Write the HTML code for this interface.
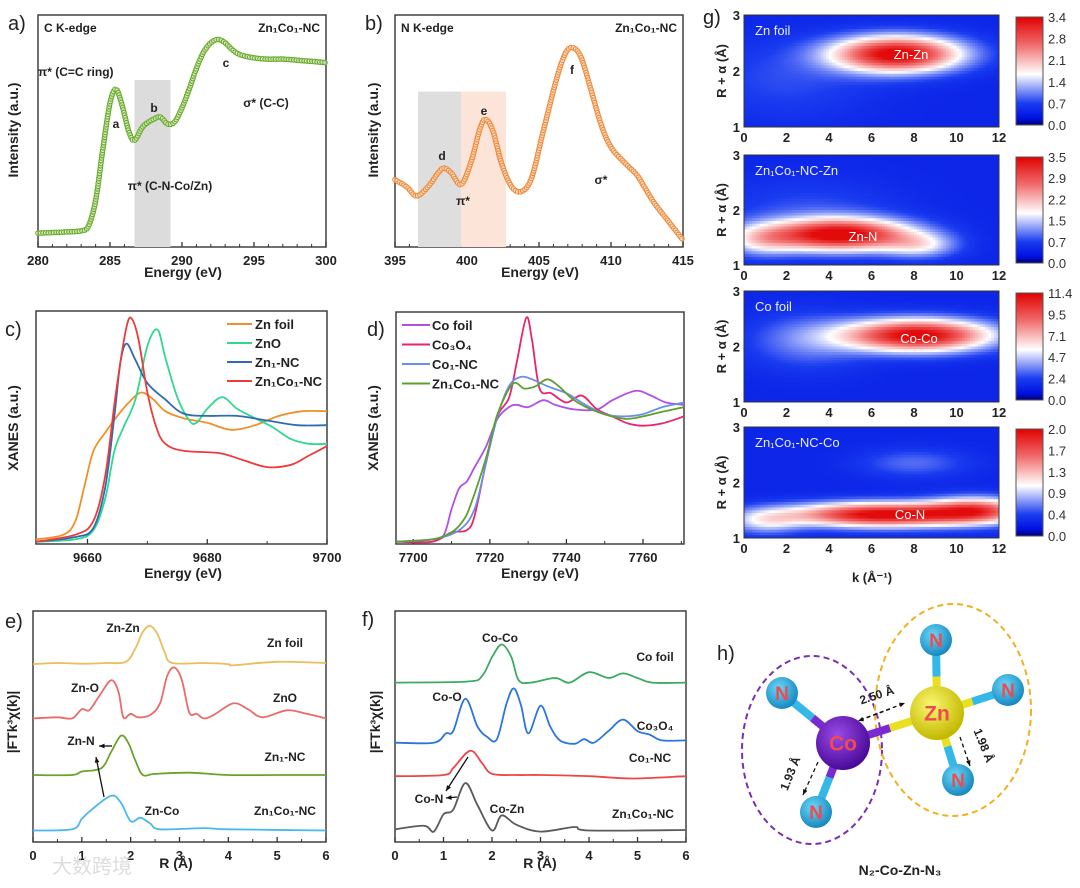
<!DOCTYPE html>
<html><head><meta charset="utf-8">
<style>
html,body{margin:0;padding:0;background:#fff;}
svg{display:block;font-family:"Liberation Sans","Noto Sans CJK SC",sans-serif;}
.tl{font-size:13px;font-weight:bold;fill:#222;}
.ax{font-size:14px;font-weight:bold;fill:#222;}
.lab{font-size:12px;font-weight:bold;fill:#222;}
.pl{font-size:20px;fill:#222;}
</style></head>
<body>
<svg id="fig" width="1080" height="888" viewBox="0 0 1080 888" xmlns="http://www.w3.org/2000/svg">
<defs>
<radialGradient id="gCo" cx="40%" cy="35%" r="65%"><stop offset="0" stop-color="#9a4ae8"/><stop offset="1" stop-color="#4a0a98"/></radialGradient>
<radialGradient id="gZn" cx="40%" cy="35%" r="65%"><stop offset="0" stop-color="#fbf870"/><stop offset="1" stop-color="#c2b800"/></radialGradient>
<radialGradient id="gN" cx="40%" cy="35%" r="65%"><stop offset="0" stop-color="#6ad8f8"/><stop offset="1" stop-color="#1888c0"/></radialGradient>
<linearGradient id="cbar" x1="0" y1="1" x2="0" y2="0">
<stop offset="0" stop-color="#000070"/><stop offset="0.06" stop-color="#0010e0"/><stop offset="0.2" stop-color="#1a3cf0"/><stop offset="0.47" stop-color="#ffffff"/><stop offset="0.75" stop-color="#f06868"/><stop offset="1" stop-color="#e00000"/>
</linearGradient>
</defs>
</svg>
<script>
// ---------- DATA ----------
const aE=[280,282,283,283.5,284,284.5,285,285.4,285.8,286.3,286.7,287.3,288,288.5,289,289.5,290,290.5,291,291.5,292,292.5,293,293.5,294,295,296,297,298,299,300];
const aI=[0.06,0.065,0.07,0.09,0.2,0.42,0.62,0.68,0.62,0.5,0.46,0.52,0.55,0.56,0.53,0.54,0.6,0.68,0.77,0.84,0.88,0.895,0.88,0.85,0.83,0.815,0.81,0.81,0.805,0.8,0.795];
const bE=[395,395.8,396.5,397.3,398,398.4,398.9,399.6,400.3,400.9,401.3,401.8,402.4,403.1,403.8,404.5,405.3,406.2,406.8,407.3,407.9,408.6,409.3,410,411,411.8,412.4,413,414,415];
const bI=[0.29,0.26,0.22,0.26,0.32,0.34,0.32,0.27,0.37,0.51,0.55,0.5,0.36,0.26,0.24,0.3,0.5,0.72,0.83,0.86,0.82,0.68,0.53,0.43,0.36,0.31,0.25,0.19,0.11,0.03];
const cZnFoilE=[9651.4,9656,9658,9659.5,9661,9663,9665,9667,9669,9671,9673,9676,9680,9684,9688,9692,9696,9700];
const cZnFoilI=[0.02,0.04,0.1,0.25,0.4,0.48,0.55,0.61,0.65,0.62,0.57,0.54,0.52,0.49,0.51,0.55,0.57,0.57];
const cZnOE=[9651.4,9658,9661,9663,9664.5,9666,9668,9670,9671.7,9673,9675,9677,9678.2,9680,9682.5,9685,9688,9691,9694,9697,9700];
const cZnOI=[0.01,0.02,0.06,0.2,0.4,0.5,0.62,0.85,0.92,0.8,0.63,0.53,0.52,0.58,0.63,0.58,0.54,0.5,0.45,0.43,0.43];
const cZn1E=[9651.4,9658,9661,9663,9664.5,9665.5,9666.5,9668,9670,9673,9676,9680,9685,9690,9695,9700];
const cZn1I=[0.01,0.03,0.07,0.25,0.55,0.78,0.86,0.79,0.69,0.62,0.56,0.55,0.55,0.53,0.51,0.51];
const cZnCoE=[9651.4,9658,9661,9663,9664.5,9665.5,9666.5,9667.3,9668.5,9670,9671.5,9673,9676,9682,9686,9690,9694,9697,9700];
const cZnCoI=[0.01,0.04,0.1,0.3,0.6,0.78,0.93,0.97,0.88,0.65,0.5,0.43,0.4,0.39,0.36,0.33,0.34,0.38,0.42];
const cNames=["Zn foil","ZnO","Zn\u2081-NC","Zn\u2081Co\u2081-NC"];
const dCoFoilE=[7695.5,7705,7708,7710,7712,7714,7716,7719,7722,7725,7727,7730,7734,7737,7742,7748,7752,7758,7762,7766,7770.7];
const dCoFoilI=[0.01,0.02,0.04,0.15,0.24,0.27,0.33,0.42,0.54,0.59,0.6,0.59,0.62,0.6,0.58,0.58,0.62,0.66,0.64,0.61,0.6];
const dCo3O4E=[7695.5,7705,7710,7714,7716,7719,7722,7725,7727,7729.5,7731,7733,7736,7740,7744,7748,7752,7756,7760,7765,7770.7];
const dCo3O4I=[0.01,0.01,0.05,0.06,0.12,0.35,0.55,0.63,0.78,0.975,0.88,0.67,0.65,0.61,0.64,0.58,0.55,0.52,0.51,0.52,0.55];
const dCo1E=[7695.5,7705,7712,7716,7719,7722,7725,7728,7731,7735,7740,7745,7750,7755,7760,7765,7770.7];
const dCo1I=[0.01,0.02,0.06,0.15,0.35,0.55,0.68,0.72,0.71,0.68,0.65,0.6,0.56,0.55,0.56,0.59,0.61];
const dZnCoE=[7695.5,7705,7710,7713,7715,7719,7722,7726,7729,7732,7735,7738,7742,7748,7755,7760,7765,7770.7];
const dZnCoI=[0.01,0.02,0.05,0.1,0.17,0.37,0.56,0.69,0.67,0.68,0.71,0.68,0.62,0.57,0.54,0.55,0.57,0.59];
const dNames=["Co foil","Co\u2083O\u2084","Co\u2081-NC","Zn\u2081Co\u2081-NC"];
const eZnFoilR=[0,0.5,1,1.5,1.9,2.1,2.25,2.4,2.55,2.7,2.85,3.5,4,4.1,5,6];
const eZnFoilV=[0.77,0.775,0.772,0.775,0.78,0.84,0.91,0.935,0.9,0.82,0.775,0.775,0.77,0.765,0.78,0.775];
const eZnOR=[0,0.5,0.8,1,1.15,1.35,1.6,1.75,1.85,2,2.15,2.4,2.6,2.75,2.9,3.05,3.2,3.35,3.5,3.7,4.1,4.4,4.7,5.2,5.6,6];
const eZnOV=[0.535,0.54,0.535,0.575,0.57,0.63,0.7,0.65,0.54,0.555,0.54,0.55,0.6,0.72,0.755,0.7,0.56,0.555,0.535,0.55,0.6,0.575,0.54,0.57,0.555,0.535];
const eZn1R=[0,0.8,1,1.4,1.6,1.8,1.95,2.1,2.25,2.5,3.2,4,5,6];
const eZn1V=[0.29,0.29,0.305,0.32,0.39,0.46,0.43,0.35,0.29,0.295,0.3,0.29,0.29,0.29];
const eZnCoR=[0,0.8,1,1.2,1.6,1.8,2,2.2,2.4,2.6,3.5,4,6];
const eZnCoV=[0.05,0.055,0.1,0.14,0.2,0.17,0.09,0.105,0.08,0.055,0.06,0.055,0.05];
const fCoFoilR=[0,1.5,1.8,2,2.2,2.4,2.55,2.8,3.3,3.6,4,4.4,4.7,5,5.3,6];
const fCoFoilV=[0.69,0.695,0.72,0.8,0.855,0.8,0.7,0.69,0.71,0.69,0.735,0.71,0.73,0.71,0.69,0.69];
const fCo3O4R=[0,0.8,1.05,1.2,1.45,1.7,1.9,2.1,2.3,2.45,2.6,2.75,3,3.2,3.4,3.7,3.9,4.1,4.4,4.7,5,5.25,5.5,6];
const fCo3O4V=[0.43,0.43,0.47,0.48,0.62,0.5,0.455,0.445,0.6,0.665,0.59,0.47,0.59,0.5,0.44,0.425,0.445,0.43,0.48,0.53,0.48,0.465,0.44,0.44];
const fCo1R=[0,1,1.2,1.55,1.8,2,2.5,3,4,4.9,6];
const fCo1V=[0.285,0.29,0.32,0.395,0.34,0.295,0.29,0.29,0.285,0.275,0.285];
const fZnCoR=[0,0.6,0.8,1,1.2,1.45,1.7,2,2.2,2.5,3,3.7,4,6];
const fZnCoV=[0.055,0.07,0.045,0.12,0.14,0.255,0.16,0.05,0.115,0.075,0.045,0.065,0.05,0.052];
// heatmap peaks: [k, R, amplitude, sigmaK, sigmaR]
const g1Peaks=[[7.2,2.3,1.0,2.1,0.22],[2,1.85,0.1,3,0.5]];
const g2Peaks=[[4.5,1.55,1.0,2.3,0.2],[8.3,1.35,0.3,1.2,0.16],[0.8,1.45,0.3,1.2,0.2],[3,2.0,0.1,3,0.4]];
const g3Peaks=[[8.2,2.2,1.0,2.4,0.2],[3,2.1,0.18,2,0.35]];
const g4Peaks=[[6.5,1.42,1.0,3.0,0.15],[11,1.5,0.65,1.6,0.16],[8,2.35,0.15,1.8,0.18],[1,1.3,0.3,1.2,0.16]];
const g1Ticks=["0.0","0.7","1.4","2.1","2.8","3.4"];
const g2Ticks=["0.0","0.7","1.5","2.2","2.9","3.5"];
const g3Ticks=["0.0","2.4","4.7","7.1","9.5","11.4"];
const g4Ticks=["0.0","0.4","0.9","1.3","1.7","2.0"];

// ---------- HELPERS ----------
const NS="http://www.w3.org/2000/svg";
const svg=document.getElementById("fig");
function mk(tag,parent){const e=document.createElementNS(NS,tag);(parent||svg).appendChild(e);return e;}
function lin(d0,d1,r0,r1){return v=>r0+(v-d0)*(r1-r0)/(d1-d0);}
function smooth(pts){
  let d="M"+pts[0][0].toFixed(1)+","+pts[0][1].toFixed(1);
  for(let i=0;i<pts.length-1;i++){
    const p0=pts[Math.max(0,i-1)],p1=pts[i],p2=pts[i+1],p3=pts[Math.min(pts.length-1,i+2)];
    const c1=[p1[0]+(p2[0]-p0[0])/6,p1[1]+(p2[1]-p0[1])/6];
    const c2=[p2[0]-(p3[0]-p1[0])/6,p2[1]-(p3[1]-p1[1])/6];
    d+="C"+c1[0].toFixed(1)+","+c1[1].toFixed(1)+" "+c2[0].toFixed(1)+","+c2[1].toFixed(1)+" "+p2[0].toFixed(1)+","+p2[1].toFixed(1);
  }
  return d;
}
function txt(x,y,s,cls,anchor,parent){const t=mk("text",parent);t.setAttribute("x",x);t.setAttribute("y",y);if(cls)t.setAttribute("class",cls);if(anchor)t.setAttribute("text-anchor",anchor);t.textContent=s;return t;}

function panel(P){
  const g=mk("g");
  
  
  const fr=mk("rect",g);
  
  
  fr.setAttribute("x",P.x0);fr.setAttribute("y",P.y0);fr.setAttribute("width",P.x1-P.x0);fr.setAttribute("height",P.y1-P.y0);
  fr.setAttribute("fill","none");fr.setAttribute("stroke","#333");fr.setAttribute("stroke-width","1.4");
  const sx=lin(P.d0,P.d1,P.x0,P.x1);
  const tg=mk("g",g);
  
  
  P.minor.forEach(v=>{const l=mk("line",tg);l.setAttribute("x1",sx(v));l.setAttribute("x2",sx(v));l.setAttribute("y1",P.y1);l.setAttribute("y2",P.y1-3);l.setAttribute("stroke","#333");});
  P.ticks.forEach(v=>{const l=mk("line",tg);l.setAttribute("x1",sx(v));l.setAttribute("x2",sx(v));l.setAttribute("y1",P.y1);l.setAttribute("y2",P.y1-5);l.setAttribute("stroke","#333");l.setAttribute("stroke-width","1.3");
    const t=txt(sx(v),P.y1+18,String(v),"tl","middle",tg);
    
    });
  return {g,sx,sy:lin(0,1,P.y1,P.y0)};
}
function series(ax,xs,ys,color,name,width,markers){
  const pts=xs.map((x,i)=>[ax.sx(x),ax.sy(ys[i])]);
  const p=mk("path",ax.g);
  
  
  p.setAttribute("d",smooth(pts));p.setAttribute("fill","none");p.setAttribute("stroke",color);p.setAttribute("stroke-width",width||1.8);
  if(markers){
    p.setAttribute("stroke-width","0.8");
    const L=p.getTotalLength();
    const mg=mk("g",ax.g);
    
    
    for(let s=0;s<=L;s+=2.6){const q=p.getPointAtLength(s);const c=mk("circle",mg);c.setAttribute("cx",q.x.toFixed(1));c.setAttribute("cy",q.y.toFixed(1));c.setAttribute("r","2.3");c.setAttribute("fill","#fff");c.setAttribute("fill-opacity","0.5");c.setAttribute("stroke",color);c.setAttribute("stroke-width","1.1");}
  }
  return p;
}
function band(ax,e0,e1,top,color,name){
  const r=mk("rect",ax.g);
  
  
  r.setAttribute("x",ax.sx(e0));r.setAttribute("width",ax.sx(e1)-ax.sx(e0));r.setAttribute("y",ax.sy(top));r.setAttribute("height",ax.sy(0)-ax.sy(top));r.setAttribute("fill",color);
}
function ylabel(x,y,s,name){const t=txt(0,0,s,"ax","middle");t.setAttribute("transform","translate("+x+","+y+") rotate(-90)");
  
  }
function label(x,y,s,cls,anchor,name){const t=txt(x,y,s,cls||"lab",anchor);
  
  return t;}
function rng(a,b,s){const r=[];for(let v=a;v<=b+1e-9;v+=s)r.push(+v.toFixed(3));return r;}
function arrow(x1,y1,x2,y2,name,dash){
  const l=mk("line");
  
  
  l.setAttribute("x1",x1);l.setAttribute("y1",y1);l.setAttribute("x2",x2);l.setAttribute("y2",y2);l.setAttribute("stroke","#111");l.setAttribute("stroke-width","1.3");if(dash)l.setAttribute("stroke-dasharray",dash);
  const a=Math.atan2(y2-y1,x2-x1),h=6;
  const p=mk("polygon");
  
  
  p.setAttribute("points",x2+","+y2+" "+(x2-h*Math.cos(a-0.4))+","+(y2-h*Math.sin(a-0.4))+" "+(x2-h*Math.cos(a+0.4))+","+(y2-h*Math.sin(a+0.4)));p.setAttribute("fill","#111");
}

// ---------- PANEL A ----------
const A=panel({name:"panel-a",x0:38,x1:326,y0:15,y1:247,d0:280,d1:300,ticks:[280,285,290,295,300],minor:rng(280,300,1)});
band(A,286.7,289.2,0.72,"#dcdcdc","shaded-region-b");
series(A,aE,aI,"#6aab2a","c-k-edge-curve",1,true);
label(8,30,"a)","pl",null,"panel-a-letter");
label(44,32,"C K-edge","lab",null,"c-k-edge-title");
label(320,32,"Zn\u2081Co\u2081-NC","lab","end","sample-label-a");
label(38,76,"\u03c0* (C=C ring)","lab",null,"pi-star-ring-label");
label(116,128,"a","lab","middle","peak-a-label");
label(154,112,"b","lab","middle","peak-b-label");
label(226,67,"c","lab","middle","peak-c-label");
label(266,107,"\u03c3* (C-C)","lab","middle","sigma-star-label-a");
label(170,190,"\u03c0* (C-N-Co/Zn)","lab","middle","pi-star-cn-label");
ylabel(18,130,"Intensity (a.u.)","y-axis-title-a");
label(183,277,"Energy (eV)","ax","middle","x-axis-title-a");

// ---------- PANEL B ----------
const B=panel({name:"panel-b",x0:395,x1:683,y0:15,y1:247,d0:395,d1:415,ticks:[395,400,405,410,415],minor:rng(395,415,1)});
band(B,396.6,399.6,0.67,"#dedede","shaded-region-d");
band(B,399.6,402.7,0.67,"#fce4d8","shaded-region-e");
series(B,bE,bI,"#ee8a3a","n-k-edge-curve",1,true);
label(365,30,"b)","pl",null,"panel-b-letter");
label(401,32,"N K-edge","lab",null,"n-k-edge-title");
label(677,32,"Zn\u2081Co\u2081-NC","lab","end","sample-label-b");
label(442,160,"d","lab","middle","peak-d-label");
label(484,115,"e","lab","middle","peak-e-label");
label(572,74,"f","lab","middle","peak-f-label");
label(463,205,"\u03c0*","lab","middle","pi-star-label-b");
label(601,184,"\u03c3*","lab","middle","sigma-star-label-b");
ylabel(378,130,"Intensity (a.u.)","y-axis-title-b");
label(540,277,"Energy (eV)","ax","middle","x-axis-title-b");

// ---------- PANEL C ----------
const C=panel({name:"panel-c",x0:36,x1:327,y0:311,y1:544,d0:9651.4,d1:9700,ticks:[9660,9680,9700],minor:[9670,9690]});
const cCols=["#f0902a","#30d890","#2e6cb2","#ee3a3a"];
series(C,cZnFoilE,cZnFoilI,cCols[0],"zn-foil-xanes-line",1.8);
series(C,cZnOE,cZnOI,cCols[1],"zno-xanes-line",1.8);
series(C,cZn1E,cZn1I,cCols[2],"zn1-nc-xanes-line",1.8);
series(C,cZnCoE,cZnCoI,cCols[3],"zn1co1-nc-xanes-line",1.8);
cNames.forEach((n,i)=>{const y=324+i*19;const l=mk("line");
  
  
  l.setAttribute("x1",227);l.setAttribute("x2",252);l.setAttribute("y1",y);l.setAttribute("y2",y);l.setAttribute("stroke",cCols[i]);l.setAttribute("stroke-width","2");
  label(255,y+5,n,"tl",null,"legend-entry-c");});
label(5,336,"c)","pl",null,"panel-c-letter");
ylabel(18,428,"XANES (a.u.)","y-axis-title-c");
label(183,578,"Energy (eV)","ax","middle","x-axis-title-c");

// ---------- PANEL D ----------
const D=panel({name:"panel-d",x0:396,x1:684,y0:312,y1:544,d0:7695.5,d1:7770.7,ticks:[7700,7720,7740,7760],minor:[7710,7730,7750,7770]});
const dCols=["#b050ea","#e8246e","#6a8eea","#5ea030"];
series(D,dCoFoilE,dCoFoilI,dCols[0],"co-foil-xanes-line",1.8);
series(D,dCo3O4E,dCo3O4I,dCols[1],"co3o4-xanes-line",1.8);
series(D,dCo1E,dCo1I,dCols[2],"co1-nc-xanes-line",1.8);
series(D,dZnCoE,dZnCoI,dCols[3],"zn1co1-nc-co-xanes-line",1.8);
dNames.forEach((n,i)=>{const y=325+i*19.5;const l=mk("line");
  
  
  l.setAttribute("x1",402);l.setAttribute("x2",430);l.setAttribute("y1",y);l.setAttribute("y2",y);l.setAttribute("stroke",dCols[i]);l.setAttribute("stroke-width","2");
  label(432,y+5,n,"tl",null,"legend-entry-d");});
label(367,336,"d)","pl",null,"panel-d-letter");
ylabel(378,428,"XANES (a.u.)","y-axis-title-d");
label(540,578,"Energy (eV)","ax","middle","x-axis-title-d");

// ---------- PANEL E ----------
const E=panel({name:"panel-e",x0:33,x1:326,y0:611,y1:842,d0:0,d1:6,ticks:[0,1,2,3,4,5,6],minor:rng(0.5,5.5,1)});
series(E,eZnFoilR,eZnFoilV,"#ecbd5a","zn-foil-ft-line",1.8);
series(E,eZnOR,eZnOV,"#ea6a6a","zno-ft-line",1.8);
series(E,eZn1R,eZn1V,"#6aa32a","zn1-nc-ft-line",1.8);
series(E,eZnCoR,eZnCoV,"#4ab8ec","zn1co1-nc-ft-line",1.8);
label(5,628,"e)","pl",null,"panel-e-letter");
label(123,632,"Zn-Zn","lab","middle","zn-zn-label");
label(285,647,"Zn foil","lab","middle","zn-foil-label");
label(85,692,"Zn-O","lab","middle","zn-o-label");
label(285,702,"ZnO","lab","middle","zno-label");
label(81,745,"Zn-N","lab","middle","zn-n-label");
label(285,761,"Zn\u2081-NC","lab","middle","zn1-nc-label");
label(162,815,"Zn-Co","lab","middle","zn-co-label");
label(285,815,"Zn\u2081Co\u2081-NC","lab","middle","zn1co1-nc-label-e");
arrow(112,746,99,746,"zn-n-arrow-green");
arrow(104,797,96,757,"zn-n-arrow-blue");
ylabel(17,722,"|FTk\u00b3\u03c7(k)|","y-axis-title-e");
label(176,868,"R (\u00c5)","ax","middle","x-axis-title-e");

// ---------- PANEL F ----------
const F=panel({name:"panel-f",x0:395,x1:686,y0:611,y1:842,d0:0,d1:6,ticks:[0,1,2,3,4,5,6],minor:rng(0.5,5.5,1)});
series(F,fCoFoilR,fCoFoilV,"#3caa60","co-foil-ft-line",1.8);
series(F,fCo3O4R,fCo3O4V,"#2a75e0","co3o4-ft-line",1.8);
series(F,fCo1R,fCo1V,"#ea4848","co1-nc-ft-line",1.8);
series(F,fZnCoR,fZnCoV,"#5a5a5a","zn1co1-nc-co-ft-line",1.8);
label(362,626,"f)","pl",null,"panel-f-letter");
label(500,642,"Co-Co","lab","middle","co-co-label");
label(655,661,"Co foil","lab","middle","co-foil-label");
label(447,701,"Co-O","lab","middle","co-o-label");
label(655,730,"Co\u2083O\u2084","lab","middle","co3o4-label");
label(650,762,"Co\u2081-NC","lab","middle","co1-nc-label");
label(429,803,"Co-N","lab","middle","co-n-label");
label(507,813,"Co-Zn","lab","middle","co-zn-label");
label(643,818,"Zn\u2081Co\u2081-NC","lab","middle","zn1co1-nc-label-f");
arrow(468,757,446,791,"co-n-arrow-red");
arrow(457,797,446,798,"co-n-arrow-gray");
ylabel(380,722,"|FTk\u00b3\u03c7(k)|","y-axis-title-f");
label(540,868,"R (\u00c5)","ax","middle","x-axis-title-f");

// ---------- PANEL G (WT heatmaps) ----------
function cmap(v){
  const st=[[0,[0,0,112]],[0.06,[0,16,224]],[0.2,[26,60,240]],[0.47,[255,255,255]],[0.75,[242,110,110]],[1,[226,10,10]]];
  v=Math.max(0,Math.min(1,v));
  for(let i=0;i<st.length-1;i++){if(v<=st[i+1][0]){const t=(v-st[i][0])/(st[i+1][0]-st[i][0]);const a=st[i][1],b=st[i+1][1];return "rgb("+a.map((c,j)=>Math.round(c+(b[j]-c)*t)).join(",")+")";}}
  return "rgb(226,10,10)";
}
const hx0=744,hx1=999;
function heat(y0,y1,peaks,ticks,name,title,blabel,bx,by){
  const g=mk("g");
  
  
  const sk=lin(0,12,hx0,hx1),sr=lin(1,3,y1,y0);
  const nk=96,nr=40,cw=(hx1-hx0)/nk,ch=(y1-y0)/nr;
  for(let i=0;i<nk;i++)for(let j=0;j<nr;j++){
    const k=(i+0.5)/nk*12,R=3-(j+0.5)/nr*2;
    let v=0.14;
    peaks.forEach(p=>{v+=p[2]*Math.exp(-((k-p[0])**2)/(2*p[3]*p[3])-((R-p[1])**2)/(2*p[4]*p[4]));});
    const r=mk("rect",g);
    
    
    r.setAttribute("x",(sk(0)+i*cw).toFixed(2));r.setAttribute("y",(y0+j*ch).toFixed(2));r.setAttribute("width",(cw+0.5).toFixed(2));r.setAttribute("height",(ch+0.5).toFixed(2));r.setAttribute("fill",cmap(v*0.92));
  }
  const fr=mk("rect",g);
  
  
  fr.setAttribute("x",hx0);fr.setAttribute("y",y0);fr.setAttribute("width",hx1-hx0);fr.setAttribute("height",y1-y0);fr.setAttribute("fill","none");fr.setAttribute("stroke","#333");
  [1,2,3].forEach(v=>{const t=txt(hx0-4,sr(v)+5,String(v),"tl","end",g);
    
    });
  [0,2,4,6,8,10,12].forEach(v=>{const t=txt(sk(v),y1+15,String(v),"tl","middle",g);
    
    });
  const yt=txt(0,0,"R + \u03b1 (\u00c5)","tl","middle",g);
  yt.setAttribute("transform","translate(726,"+((y0+y1)/2)+") rotate(-90)");
  
  
  const t1=txt(755,y0+20,title,"tl",null,g);t1.setAttribute("style","fill:#e8ecff;font-weight:normal");
  
  
  const t2=txt(bx,by,blabel,"tl","middle",g);t2.setAttribute("style","fill:#fff;font-weight:normal");
  
  
  const cb=mk("rect",g);
  
  
  cb.setAttribute("x",1016);cb.setAttribute("y",y0+2);cb.setAttribute("width",27);cb.setAttribute("height",y1-y0-4);cb.setAttribute("fill","url(#cbar)");cb.setAttribute("stroke","#555");
  ticks.forEach((s,i)=>{const yy=y1-2-i*(y1-y0-4)/(ticks.length-1);const t=txt(1048,yy+5,s,"tl",null,g);t.setAttribute("style","font-weight:normal;fill:#333");
    
    });
}
heat(15,127,g1Peaks,g1Ticks,"wt-zn-foil","Zn foil","Zn-Zn",911,59);
heat(155,265,g2Peaks,g2Ticks,"wt-zn1co1-nc-zn","Zn\u2081Co\u2081-NC-Zn","Zn-N",863,241);
heat(291,402,g3Peaks,g3Ticks,"wt-co-foil","Co foil","Co-Co",919,343);
heat(427,538,g4Peaks,g4Ticks,"wt-zn1co1-nc-co","Zn\u2081Co\u2081-NC-Co","Co-N",910,519);
label(703,24,"g)","pl",null,"panel-g-letter");
label(872,582,"k (\u00c5\u207b\u00b9)","tl","middle","k-axis-title");

// ---------- PANEL H (structure) ----------
const Co=[843,743],Zn=[937,713];
const Ns=[[782,693],[816,812],[936,640],[1008,690],[958,780]];
const owner=[Co,Co,Zn,Zn,Zn];
function bond(a,b,ca,cb,name){
  const m=[(a[0]+b[0])/2,(a[1]+b[1])/2];
  [[a,m,ca],[m,b,cb]].forEach(s=>{const l=mk("line");
    
    
    l.setAttribute("x1",s[0][0]);l.setAttribute("y1",s[0][1]);l.setAttribute("x2",s[1][0]);l.setAttribute("y2",s[1][1]);l.setAttribute("stroke",s[2]);l.setAttribute("stroke-width","8");});
}
const e1=mk("ellipse");


e1.setAttribute("cx",812);e1.setAttribute("cy",750);e1.setAttribute("rx",70);e1.setAttribute("ry",94);e1.setAttribute("fill","none");e1.setAttribute("stroke","#7a30b0");e1.setAttribute("stroke-width","2");e1.setAttribute("stroke-dasharray","6 4");
const e2=mk("ellipse");


e2.setAttribute("cx",953);e2.setAttribute("cy",710);e2.setAttribute("rx",78);e2.setAttribute("ry",106);e2.setAttribute("fill","none");e2.setAttribute("stroke","#f0b020");e2.setAttribute("stroke-width","2");e2.setAttribute("stroke-dasharray","6 4");
Ns.forEach((n,i)=>bond(owner[i],n,owner[i]===Co?"#7a2ad0":"#e8e020","#34b8e8","bond"));
bond(Co,Zn,"#7a2ad0","#e8e020","co-zn-bond");
function atom(p,r,grad,s,fs,name){
  const c=mk("circle");
  
  
  c.setAttribute("cx",p[0]);c.setAttribute("cy",p[1]);c.setAttribute("r",r);c.setAttribute("fill","url(#"+grad+")");
  const t=txt(p[0],p[1]+fs*0.36,s,null,"middle");t.setAttribute("style","font-size:"+fs+"px;font-weight:bold;fill:#f04a50");
  
  
}
Ns.forEach(n=>atom(n,16,"gN","N",19,"n-atom"));
atom(Co,27,"gCo","Co",21,"co-atom");
atom(Zn,27,"gZn","Zn",21,"zn-atom");
arrow(860,720,905,703,"co-zn-distance-arrow","4 3");
arrow(890,709,858,721,"co-zn-distance-arrow-back","4 3");
const d1=label(0,0,"2.50 \u00c5","lab","middle","co-zn-distance-label");d1.setAttribute("transform","translate(878,699) rotate(-18)");
arrow(818,762,803,795,"co-n-distance-arrow","4 3");
const d2=label(0,0,"1.93 \u00c5","lab","middle","co-n-distance-label");d2.setAttribute("transform","translate(794,775) rotate(-68)");
arrow(960,737,970,766,"zn-n-distance-arrow","4 3");
const d3=label(0,0,"1.98 \u00c5","lab","middle","zn-n-distance-label");d3.setAttribute("transform","translate(980,747) rotate(68)");
label(717,660,"h)","pl",null,"panel-h-letter");
label(900,875,"N\u2082-Co-Zn-N\u2083","ax","middle","structure-caption");
const wm=label(52,873,"大数跨境","ax",null,"watermark");wm.setAttribute("style","font-size:20px;fill:#ddd;font-weight:normal");
</script>
</body></html>
